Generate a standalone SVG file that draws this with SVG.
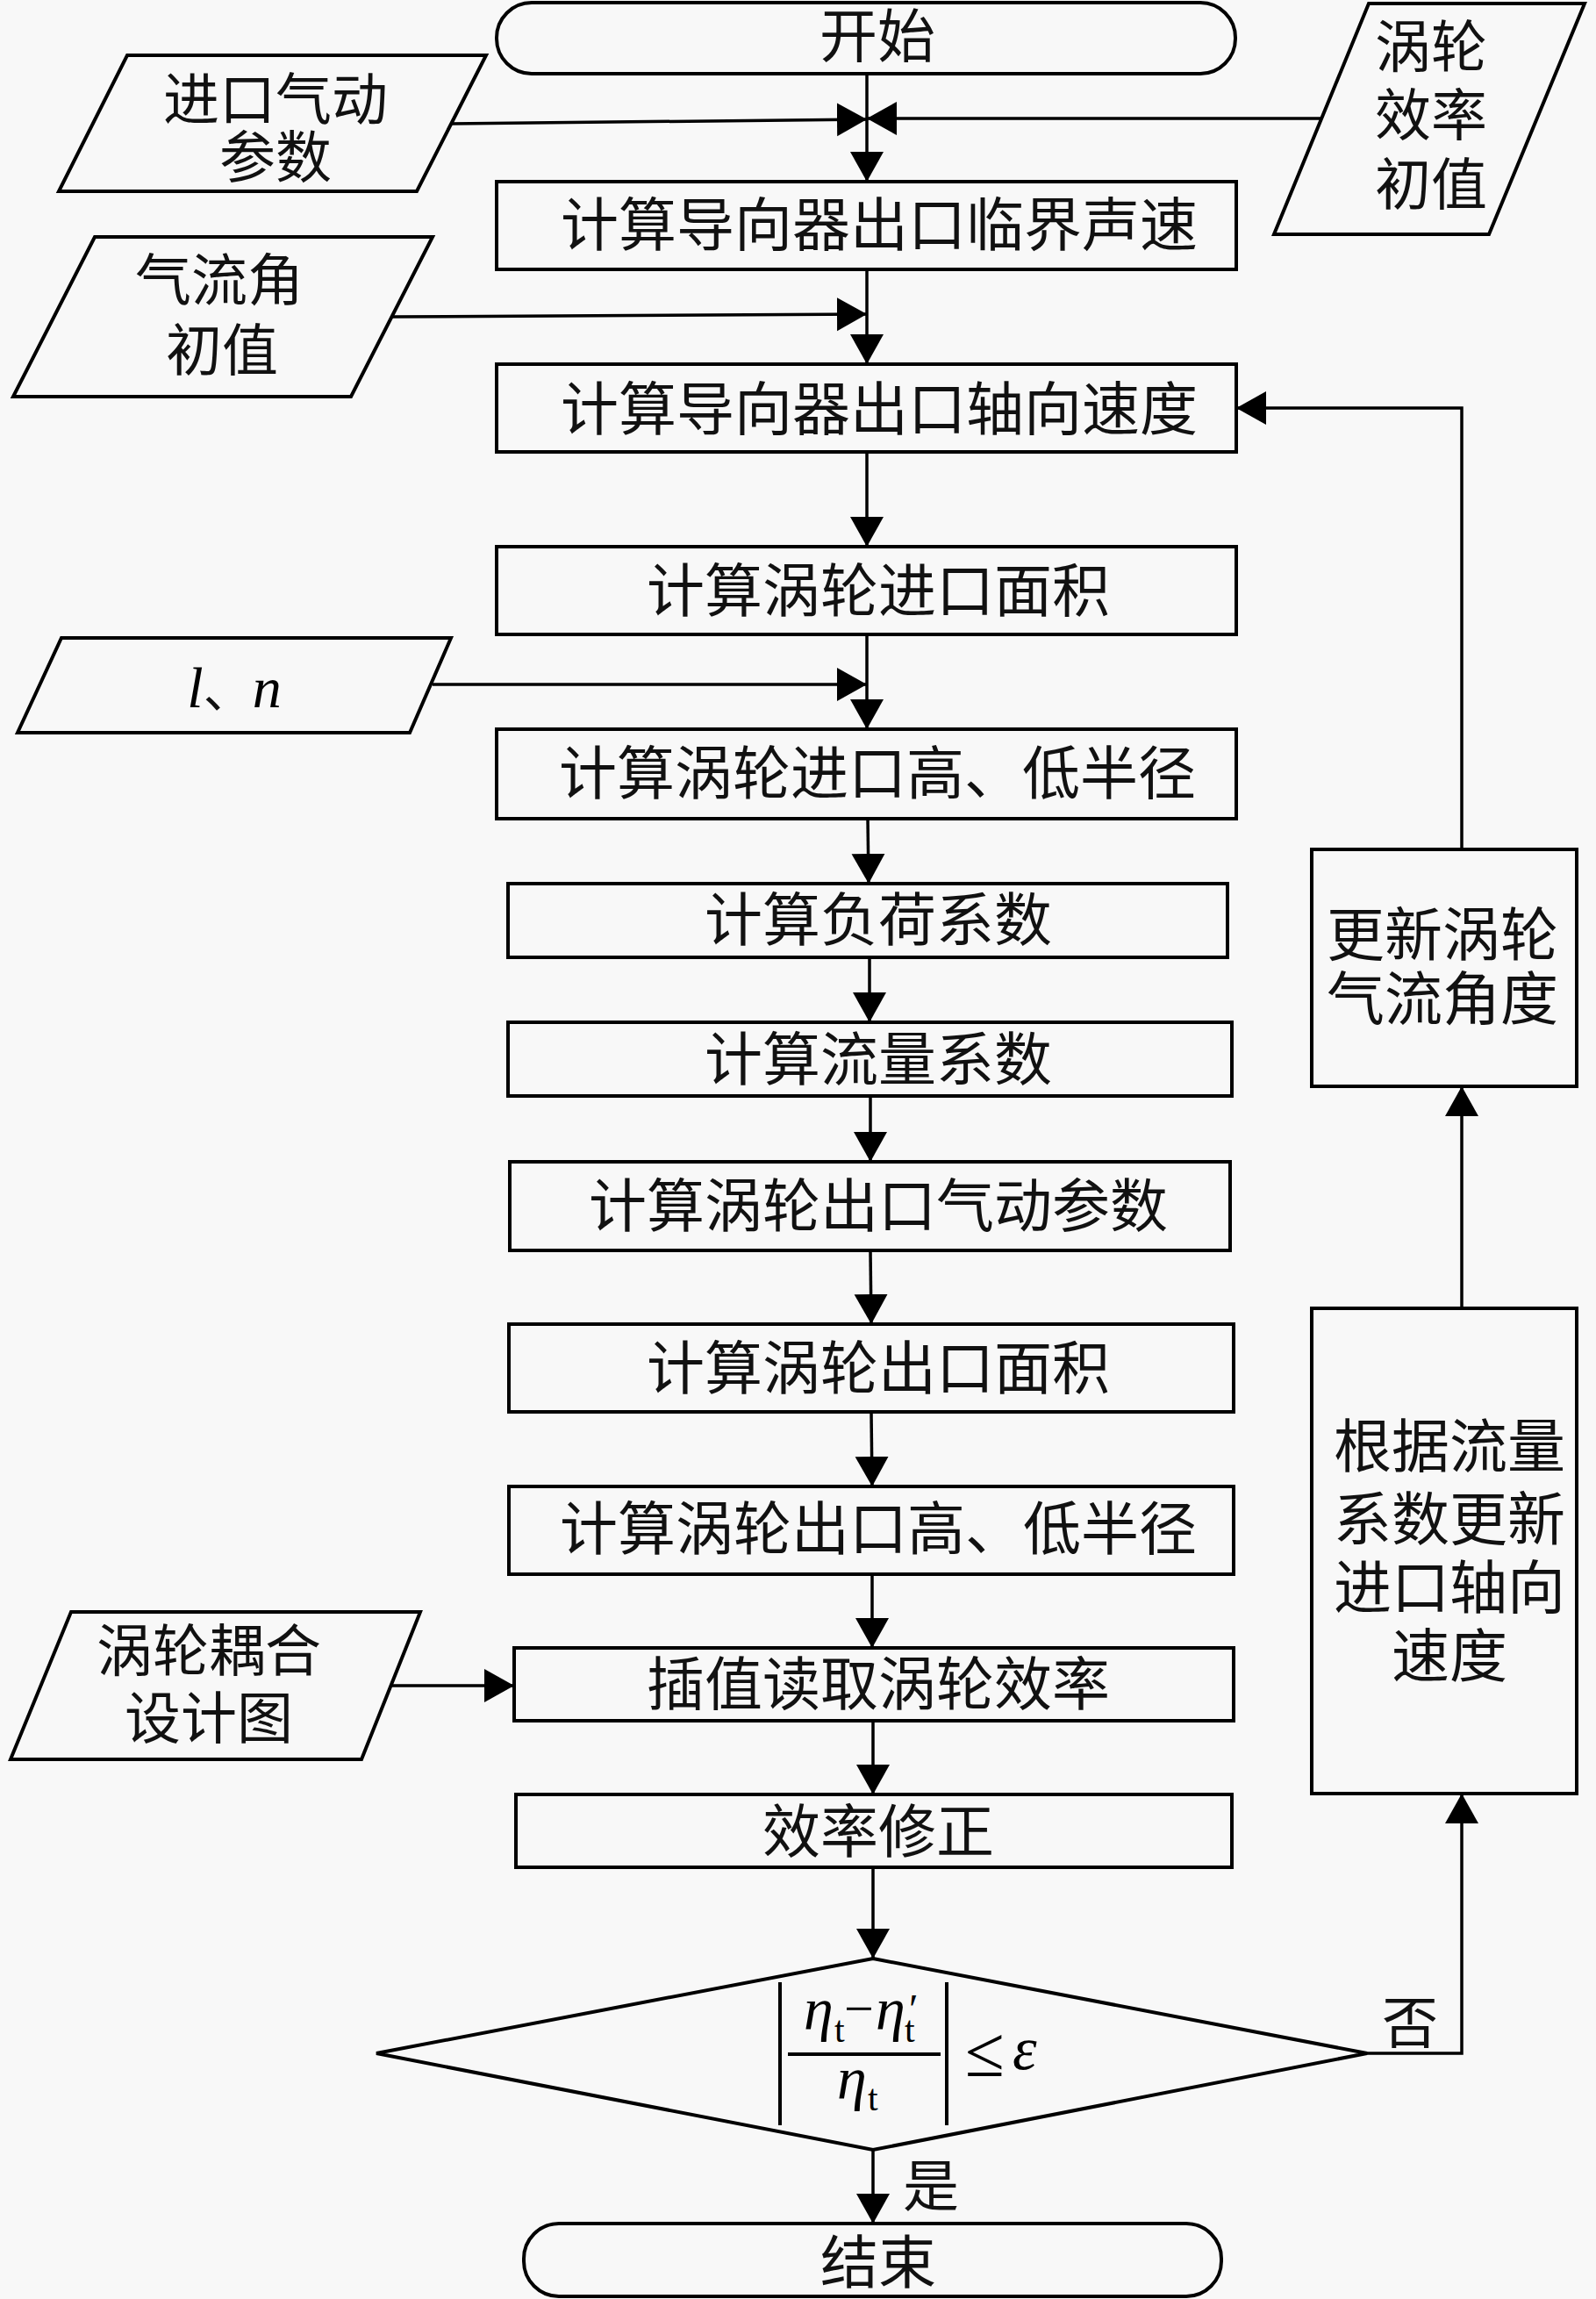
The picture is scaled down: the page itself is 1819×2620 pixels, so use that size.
<svg xmlns="http://www.w3.org/2000/svg" width="1819" height="2620" viewBox="0 0 1819 2620">
<defs>
<style>
.bg{fill:#f8f8f8}
.box{fill:#f8f8f8;stroke:#000;stroke-width:4}
.cn{fill:none;stroke:#000;stroke-width:3.5}
.t{font-family:"Noto Sans CJK SC","Noto Sans CJK JP",sans-serif;font-size:66px;fill:#111;text-anchor:middle}
.tp{font-family:"Noto Sans CJK SC","Noto Sans CJK JP",sans-serif;font-size:64px;fill:#111;text-anchor:middle}
.m{font-family:"Liberation Serif","Times New Roman",serif;fill:#000}
.mi{font-style:italic}
</style>
<marker id="ah" markerUnits="userSpaceOnUse" markerWidth="36" markerHeight="40" refX="34" refY="20" orient="auto">
<path d="M0,1 L34,20 L0,39 Z" fill="#000"/>
</marker>
</defs>
<rect class="bg" x="0" y="0" width="1819" height="2620"/>

<g id="connectors">
<line class="cn" x1="988" y1="84" x2="988" y2="207" marker-end="url(#ah)"/>
<line class="cn" x1="513" y1="141" x2="988" y2="136" marker-end="url(#ah)"/>
<line class="cn" x1="1505" y1="135" x2="988" y2="135" marker-end="url(#ah)"/>
<line class="cn" x1="988" y1="307" x2="988" y2="415" marker-end="url(#ah)"/>
<line class="cn" x1="447" y1="361" x2="988" y2="358" marker-end="url(#ah)"/>
<line class="cn" x1="988" y1="515" x2="988" y2="623" marker-end="url(#ah)"/>
<line class="cn" x1="988" y1="723" x2="988" y2="831" marker-end="url(#ah)"/>
<line class="cn" x1="493" y1="780" x2="988" y2="780" marker-end="url(#ah)"/>
<line class="cn" x1="989" y1="933" x2="990" y2="1007" marker-end="url(#ah)"/>
<line class="cn" x1="991" y1="1091" x2="991" y2="1165" marker-end="url(#ah)"/>
<line class="cn" x1="992" y1="1249" x2="992" y2="1324" marker-end="url(#ah)"/>
<line class="cn" x1="992" y1="1425" x2="993" y2="1509" marker-end="url(#ah)"/>
<line class="cn" x1="993" y1="1609" x2="994" y2="1694" marker-end="url(#ah)"/>
<line class="cn" x1="994" y1="1794" x2="994" y2="1878" marker-end="url(#ah)"/>
<line class="cn" x1="447" y1="1921" x2="586" y2="1921" marker-end="url(#ah)"/>
<line class="cn" x1="995" y1="1961" x2="995" y2="2045" marker-end="url(#ah)"/>
<line class="cn" x1="995" y1="2128" x2="995" y2="2232" marker-end="url(#ah)"/>
<line class="cn" x1="995" y1="2450" x2="995" y2="2534" marker-end="url(#ah)"/>
<polyline class="cn" points="1558,2340 1666,2340 1666,2044" marker-end="url(#ah)"/>
<line class="cn" x1="1666" y1="1491" x2="1666" y2="1238" marker-end="url(#ah)"/>
<polyline class="cn" points="1666,968 1666,465 1409,465" marker-end="url(#ah)"/>
<text class="tp" x="1061" y="2514">是</text>
<text class="tp" x="1607" y="2328">否</text>
</g>

<g id="start">
<rect class="box" x="566" y="3" width="842" height="81" rx="40" ry="40"/>
<text class="t" x="1000" y="65">开始</text>
</g>
<g id="in-aero">
<polygon class="box" points="145,63 554,63 475,218 67,218"/>
<text class="tp"><tspan x="314" y="136">进口气动</tspan><tspan x="314" y="202">参数</tspan></text>
</g>
<g id="in-eff">
<polygon class="box" points="1560,4 1806,4 1697,267 1452,267"/>
<text class="tp"><tspan x="1631" y="76">涡轮</tspan><tspan x="1631" y="154">效率</tspan><tspan x="1631" y="233">初值</tspan></text>
</g>
<g id="in-angle">
<polygon class="box" points="108,270 493,270 400,452 15,452"/>
<text class="tp"><tspan x="250" y="342">气流角</tspan><tspan x="253" y="422">初值</tspan></text>
</g>
<g id="in-ln">
<polygon class="box" points="70,727 514,727 467,835 20,835"/>
<text x="267" y="806" text-anchor="middle"><tspan class="m mi" font-size="66">l</tspan><tspan font-family="Noto Sans CJK SC,sans-serif" font-size="56" fill="#111">、</tspan><tspan class="m mi" font-size="66">n</tspan></text>
</g>
<g id="in-map">
<polygon class="box" points="81,1837 479,1837 412,2005 12,2005"/>
<text class="tp"><tspan x="238" y="1904">涡轮耦合</tspan><tspan x="238" y="1981">设计图</tspan></text>
</g>

<g id="b1"><rect class="box" x="566" y="207" width="843" height="100"/><text class="t" x="1002" y="280">计算导向器出口临界声速</text></g>
<g id="b2"><rect class="box" x="566" y="415" width="843" height="100"/><text class="t" x="1002" y="490">计算导向器出口轴向速度</text></g>
<g id="b3"><rect class="box" x="566" y="623" width="843" height="100"/><text class="t" x="1001" y="697">计算涡轮进口面积</text></g>
<g id="b4"><rect class="box" x="566" y="831" width="843" height="102"/><text class="t" x="1000" y="905">计算涡轮进口高、低半径</text></g>
<g id="b5"><rect class="box" x="579" y="1007" width="820" height="84"/><text class="t" x="1001" y="1072">计算负荷系数</text></g>
<g id="b6"><rect class="box" x="579" y="1165" width="825" height="84"/><text class="t" x="1001" y="1231">计算流量系数</text></g>
<g id="b7"><rect class="box" x="581" y="1324" width="821" height="101"/><text class="t" x="1001" y="1398">计算涡轮出口气动参数</text></g>
<g id="b8"><rect class="box" x="580" y="1509" width="826" height="100"/><text class="t" x="1001" y="1583">计算涡轮出口面积</text></g>
<g id="b9"><rect class="box" x="580" y="1694" width="826" height="100"/><text class="t" x="1001" y="1766">计算涡轮出口高、低半径</text></g>
<g id="b10"><rect class="box" x="586" y="1878" width="820" height="83"/><text class="t" x="1001" y="1943">插值读取涡轮效率</text></g>
<g id="b11"><rect class="box" x="588" y="2045" width="816" height="83"/><text class="t" x="1001" y="2111">效率修正</text></g>

<g id="update-angle"><rect class="box" x="1495" y="968" width="302" height="270"/>
<text class="t"><tspan x="1644" y="1089">更新涡轮</tspan><tspan x="1644" y="1162">气流角度</tspan></text></g>
<g id="update-axial"><rect class="box" x="1495" y="1491" width="302" height="553"/>
<text class="t"><tspan x="1652" y="1672">根据流量</tspan><tspan x="1652" y="1755">系数更新</tspan><tspan x="1652" y="1833">进口轴向</tspan><tspan x="1652" y="1911">速度</tspan></text></g>

<g id="decision">
<polygon class="box" points="995,2232 1558,2340 995,2450 429,2340"/>
<line x1="889" y1="2259" x2="889" y2="2422" stroke="#000" stroke-width="4"/>
<line x1="1079" y1="2259" x2="1079" y2="2422" stroke="#000" stroke-width="4"/>
<line x1="898" y1="2341" x2="1072" y2="2341" stroke="#000" stroke-width="4"/>
<text class="m"><tspan class="mi" x="916" y="2313" font-size="68">η</tspan><tspan x="951" y="2327" font-size="42">t</tspan><tspan x="962" y="2309" font-size="60">−</tspan><tspan class="mi" x="998" y="2313" font-size="68">η</tspan><tspan x="1036" y="2306" font-size="48">′</tspan><tspan x="1031" y="2327" font-size="42">t</tspan><tspan class="mi" x="954" y="2392" font-size="68">η</tspan><tspan x="989" y="2405" font-size="42">t</tspan><tspan x="1100" y="2366" font-size="82">≤</tspan><tspan class="mi" x="1154" y="2358" font-size="70">ε</tspan></text>
</g>

<g id="end">
<rect class="box" x="597" y="2534" width="795" height="83" rx="40" ry="40"/>
<text class="t" x="1001" y="2602">结束</text>
</g>
</svg>
